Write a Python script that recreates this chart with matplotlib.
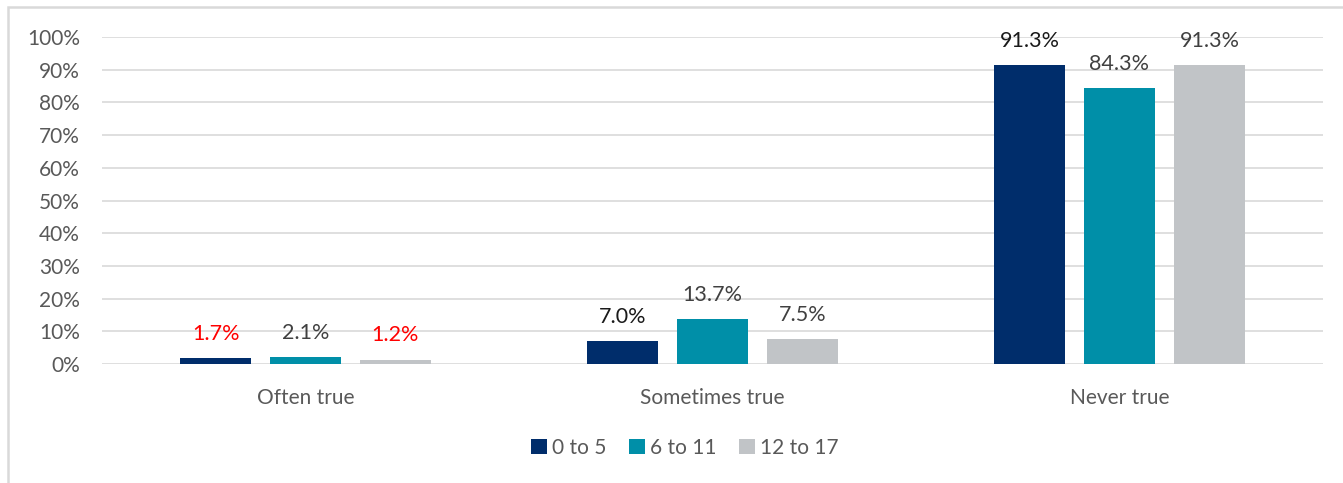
import matplotlib
matplotlib.use("Agg")
import matplotlib.pyplot as plt
import numpy as np
from matplotlib.patches import Rectangle

categories = ["Often true", "Sometimes true", "Never true"]
series_names = ["0 to 5", "6 to 11", "12 to 17"]
values_0_5 = [1.7, 7.0, 91.3]
values_6_11 = [2.1, 13.7, 84.3]
values_12_17 = [1.2, 7.5, 91.3]
label_colors_0_5 = ["#FF0000", "#1A1A1A", "#1A1A1A"]
label_colors_6_11 = ["#404040", "#404040", "#404040"]
label_colors_12_17 = ["#FF0000", "#404040", "#404040"]
yticks = [0, 10, 20, 30, 40, 50, 60, 70, 80, 90, 100]

colors = ["#002D6B", "#008FA8", "#C1C4C7"]

plt.rcParams['font.family'] = ['Lato', 'DejaVu Sans']

W, H = 1343, 483
fig = plt.figure(figsize=(W / 100, H / 100), dpi=100)
fig.patches.append(Rectangle((8 / W, -0.2), 1.2, 1.2 - 7 / H, transform=fig.transFigure,
                             fill=False, edgecolor="#D9D9D9", linewidth=1.8, zorder=0))

ax = fig.add_axes([102 / W, 1 - 364 / H, (1323 - 102) / W, (364 - 37) / H])
x = np.arange(len(categories))
offset = 0.221
width = 0.175
all_vals = [values_0_5, values_6_11, values_12_17]
all_lc = [label_colors_0_5, label_colors_6_11, label_colors_12_17]
for i, (vals, lc) in enumerate(zip(all_vals, all_lc)):
    pos = x + (i - 1) * offset
    ax.bar(pos, vals, width, color=colors[i], label=series_names[i], zorder=3)
    for p, v, c in zip(pos, vals, lc):
        ax.annotate(f"{v:.1f}%", (p, v), xytext=(0, 10.5), textcoords="offset points",
                    ha="center", va="bottom", fontsize=15.5, color=c, zorder=4)

ax.set_xlim(-0.5, 2.5)
ax.set_ylim(0, 100)
ax.set_yticks(yticks)
ax.set_yticklabels([f"{t}%" for t in yticks])
ax.set_xticks(x)
ax.set_xticklabels(categories)
ax.grid(axis="y", color="#D9D9D9", linewidth=1.2, zorder=0)
ax.set_axisbelow(True)
for s in ax.spines.values():
    s.set_visible(False)
ax.tick_params(axis="both", length=0, labelsize=15, colors="#595959")
ax.tick_params(axis="y", pad=16)
ax.tick_params(axis="x", pad=17)

leg = fig.legend(loc="center", bbox_to_anchor=(685 / W, 1 - 448 / H), ncol=3, frameon=False,
                 fontsize=15, handlelength=0.75, handleheight=0.75, handletextpad=0.25,
                 columnspacing=1.1)
for t in leg.get_texts():
    t.set_color("#595959")

fig.savefig("out.png", dpi=100)
